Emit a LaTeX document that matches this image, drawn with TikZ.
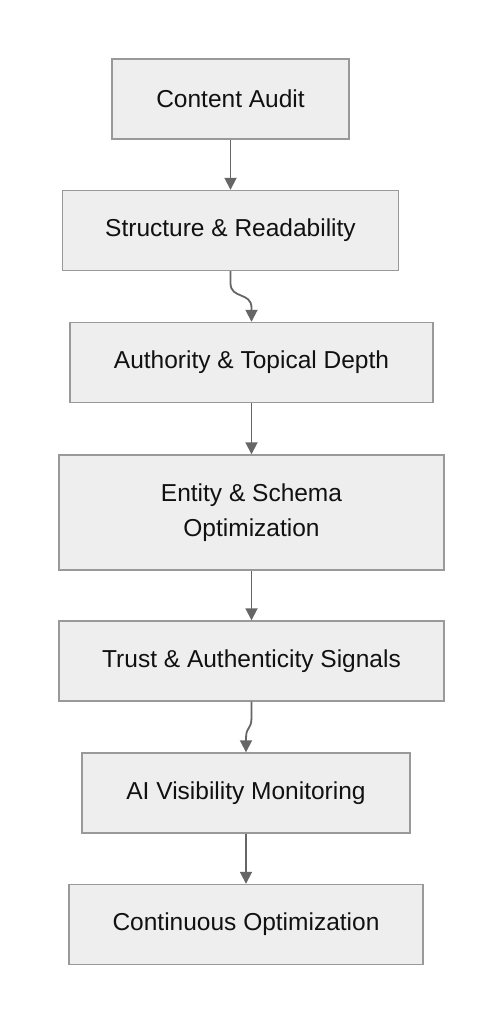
\documentclass[tikz,border=0pt]{standalone}
\usepackage{fontspec}
\setmainfont{Liberation Sans}
\usetikzlibrary{arrows.meta,calc}
\definecolor{boxfill}{HTML}{EEEEEE}
\definecolor{boxline}{HTML}{999999}
\definecolor{arrline}{HTML}{666666}
\definecolor{txt}{HTML}{111111}
\begin{document}
\begin{tikzpicture}[x=1pt,y=-1pt,
  stepbox/.style={draw=boxline,fill=boxfill,line width=1.4pt,inner sep=0pt,text=txt,
    font=\fontsize{24.5}{35}\selectfont,align=center,minimum height=80pt},
  arr/.style={draw=arrline,line width=1.8pt,-{Triangle[length=12pt,width=12pt]}}]
\useasboundingbox[fill=white] (0,0) rectangle (503,1024);
\node[stepbox,minimum width=237pt] (ca) at (230.5,99) {Content Audit};
\node[stepbox,minimum width=336pt] (sr) at (230.5,230.5) {Structure \& Readability};
\node[stepbox,minimum width=363pt] (ad) at (251.5,362.5) {Authority \& Topical Depth};
\node[stepbox,minimum width=385pt,minimum height=115pt] (es) at (251.5,512.5) {Entity \& Schema\\Optimization};
\node[stepbox,minimum width=385pt] (ta) at (251.5,661) {Trust \& Authenticity Signals};
\node[stepbox,minimum width=328pt] (av) at (246,793) {AI Visibility Monitoring};
\node[stepbox,minimum width=354pt] (co) at (246,924.5) {Continuous Optimization};
\draw[arr] (ca.south) -- (sr.north);
\draw[arr] (sr.south) -- ++(0,12) .. controls +(0,16) and +(0,-16) .. ($(ad.north)+(0,-14)$) -- (ad.north);
\draw[arr] (ad.south) -- (es.north);
\draw[arr] (es.south -| ta.north) -- (ta.north);
\draw[arr] (ta.south) -- ++(0,16) .. controls +(0,12) and +(0,-12) .. ($(av.north)+(0,-14)$) -- (av.north);
\draw[arr] (av.south) -- (co.north);
\end{tikzpicture}
\end{document}
